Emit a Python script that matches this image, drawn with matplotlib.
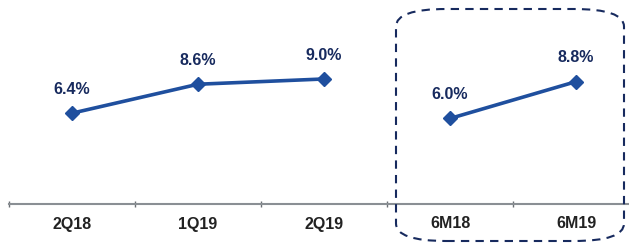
import matplotlib
matplotlib.use('Agg')
import matplotlib.pyplot as plt
from matplotlib.patches import FancyBboxPatch

categories = ['2Q18', '1Q19', '2Q19', '6M18', '6M19']
quarter_vals = [6.4, 8.6, 9.0]
half_vals = [6.0, 8.8]

line_col = '#1f4f9e'
label_col = '#172a5e'

fig = plt.figure(figsize=(6.29, 2.5), dpi=100)
ax = fig.add_axes([9 / 629, 1 - 204 / 250, 620 / 629, 204 / 250])

xq = list(range(len(quarter_vals)))
xh = [len(quarter_vals) + i for i in range(len(half_vals))]
for xs, ys in [(xq, quarter_vals), (xh, half_vals)]:
    ax.plot(xs, ys, color=line_col, lw=2.6, marker='D', ms=7.5,
            mfc=line_col, mec=line_col)
    for x, y in zip(xs, ys):
        ax.annotate(f'{y:.1f}%', (x, y), xytext=(0, 17), textcoords='offset points',
                    ha='center', va='center', fontsize=11.5, fontweight='bold',
                    color=label_col, family='Liberation Sans')

ax.set_xlim(-0.5, 4.42)
ax.set_ylim(-0.5, 15)
for s in ['top', 'right', 'left']:
    ax.spines[s].set_visible(False)
ax.spines['bottom'].set_color('#8a8f94')
ax.spines['bottom'].set_linewidth(1.5)
ax.set_yticks([])
ax.set_xticks(range(len(categories)))
ax.set_xticklabels(categories, fontsize=11.5, fontweight='bold', family='Liberation Sans',
                   color='#222222')
ax.tick_params(axis='x', length=0, pad=9)
ax.set_xticks([i - 0.5 for i in range(len(categories))], minor=True)
ax.tick_params(axis='x', which='minor', length=4, direction='inout', color='#6a6f74', width=1)

box = FancyBboxPatch((396 / 629, 9 / 250), 228 / 629, 232 / 250,
                     boxstyle='round,pad=0,rounding_size=0.08',
                     transform=fig.transFigure, fill=False, ec=label_col,
                     lw=1.5, ls=(0, (4, 3)), mutation_aspect=250 / 629 * 2.2)
fig.patches.append(box)

fig.savefig('out.png', dpi=100)
plt.close(fig)
